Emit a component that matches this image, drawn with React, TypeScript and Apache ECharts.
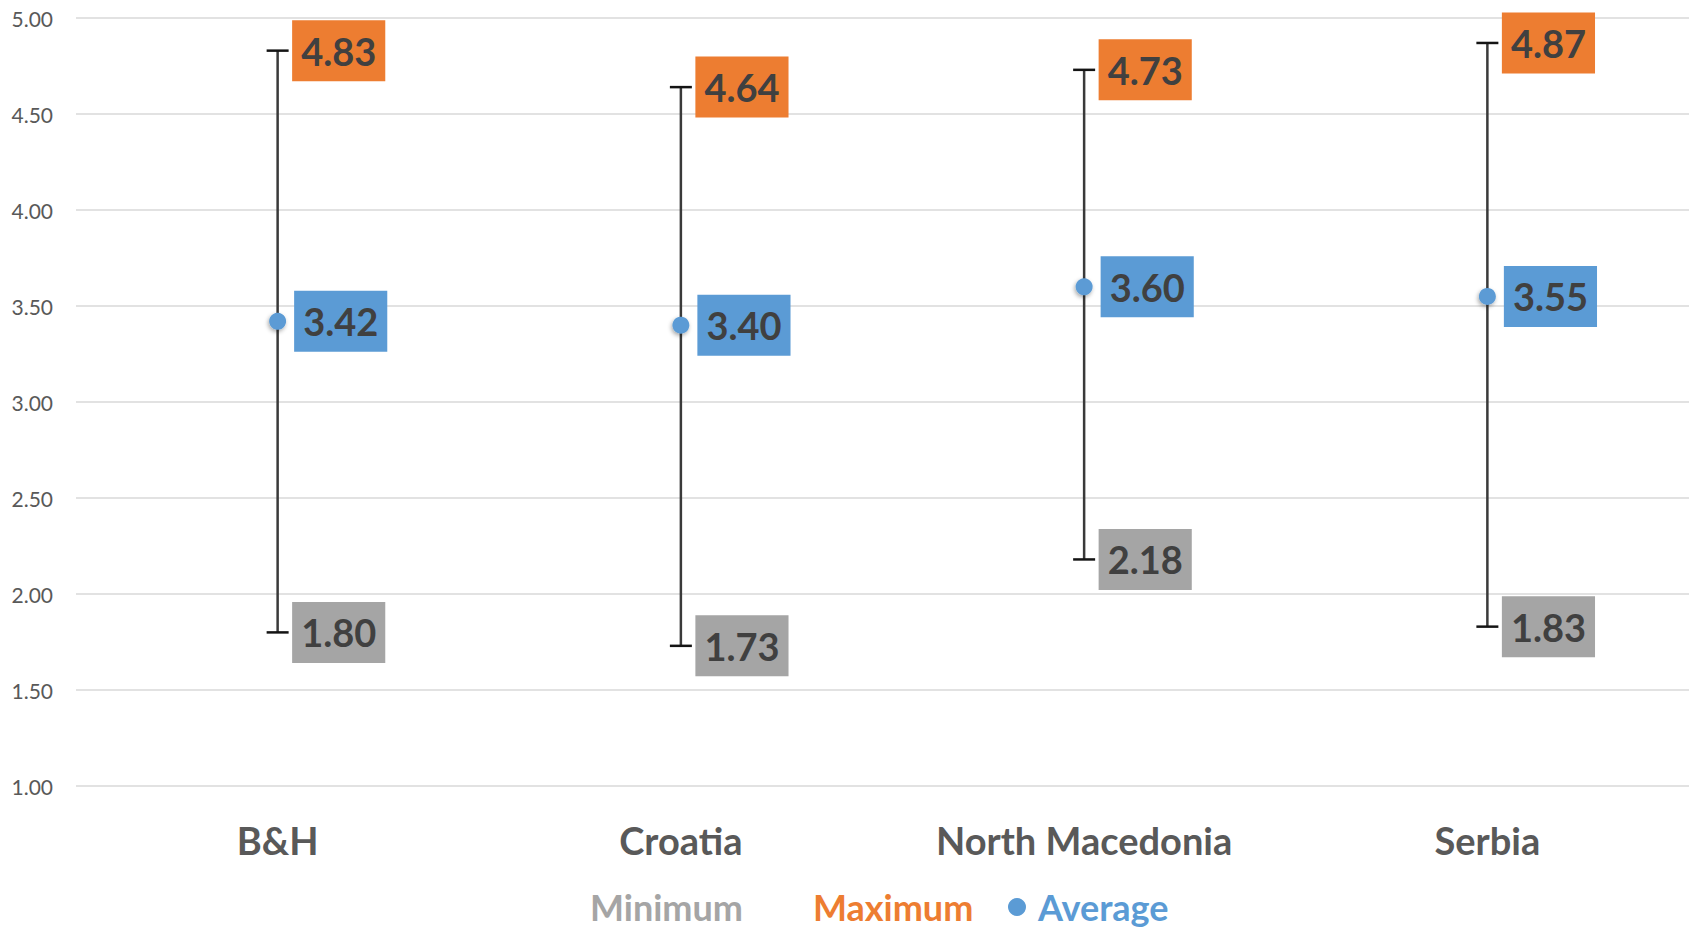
import React, { useEffect, useRef } from "react";
import * as echarts from "echarts";

// Survey score ranges by country
const countries = ["B&H", "Croatia", "North Macedonia", "Serbia"];
const minimumScores = [1.8, 1.73, 2.18, 1.83];
const maximumScores = [4.83, 4.64, 4.73, 4.87];
const averageScores = [3.42, 3.4, 3.6, 3.55];

const GRAY = "#A5A5A5";
const ORANGE = "#ED7D31";
const BLUE = "#5B9BD5";
const LABEL_TEXT = "#404040";
const FONT = "Lato, 'Noto Sans', sans-serif";

const valueLabel = (bg: string, distance: number) => ({
  show: true,
  position: "right" as const,
  distance,
  formatter: (p: any) => Number(p.value).toFixed(2),
  backgroundColor: bg,
  color: LABEL_TEXT,
  fontFamily: FONT,
  fontWeight: "bold" as const,
  fontSize: 38,
  lineHeight: 44,
  padding: [9, 9, 8, 9],
});

const legendBase = {
  top: 889,
  padding: 0,
  itemWidth: 32,
  itemHeight: 18,
  itemGap: 40,
  textStyle: { fontFamily: FONT, fontWeight: "bold", fontSize: 36, lineHeight: 36 },
};

export default function App() {
  const ref = useRef<HTMLDivElement>(null);

  useEffect(() => {
    if (!ref.current) return;
    const chart = echarts.init(ref.current, undefined, { renderer: "svg" });

    const rangeData = countries.map((_, i) => [i, minimumScores[i], maximumScores[i]]);

    chart.setOption({
      animation: false,
      backgroundColor: "#FFFFFF",
      grid: { left: 76, right: 5, top: 18, bottom: 145 },
      legend: [
        {
          ...legendBase,
          left: 560,
          data: [
            { name: "Minimum", textStyle: { color: GRAY } },
            { name: "Maximum", textStyle: { color: ORANGE } },
          ],
        },
        {
          ...legendBase,
          left: 1008,
          data: [{ name: "Average", icon: "circle", textStyle: { color: BLUE } }],
        },
      ],
      xAxis: {
        type: "category",
        data: countries,
        boundaryGap: true,
        axisLine: { show: false },
        axisTick: { show: false },
        axisLabel: {
          margin: 35,
          color: "#595959",
          fontFamily: FONT,
          fontWeight: "bold",
          fontSize: 38,
        },
      },
      yAxis: {
        type: "value",
        min: 1,
        max: 5,
        interval: 0.5,
        axisLine: { show: false },
        axisTick: { show: false },
        axisLabel: {
          margin: 23,
          color: "#595959",
          fontFamily: FONT,
          fontSize: 21,
          formatter: (v: number) => v.toFixed(2),
        },
        splitLine: { lineStyle: { color: "#D9D9D9", width: 1.5 } },
      },
      series: [
        {
          name: "Range",
          type: "custom",
          data: rangeData,
          encode: { x: 0, y: [1, 2] },
          z: 1,
          renderItem: (_params: any, api: any) => {
            const idx = api.value(0);
            const lo = api.coord([idx, api.value(1)]);
            const hi = api.coord([idx, api.value(2)]);
            const half = 11;
            return {
              type: "group",
              children: [
                {
                  type: "line",
                  shape: { x1: lo[0], y1: lo[1], x2: hi[0], y2: hi[1] },
                  style: { stroke: "#3A3A3A", lineWidth: 2.5 },
                },
                {
                  type: "line",
                  shape: { x1: hi[0] - half, y1: hi[1], x2: hi[0] + half, y2: hi[1] },
                  style: { stroke: "#141414", lineWidth: 2.5 },
                },
                {
                  type: "line",
                  shape: { x1: lo[0] - half, y1: lo[1], x2: lo[0] + half, y2: lo[1] },
                  style: { stroke: "#141414", lineWidth: 2.5 },
                },
              ],
            };
          },
        },
        {
          name: "Minimum",
          type: "scatter",
          data: minimumScores,
          symbolSize: 1,
          itemStyle: { color: "rgba(0,0,0,0)", opacity: 1 },
          label: valueLabel(GRAY, 14),
          z: 3,
        },
        {
          name: "Maximum",
          type: "scatter",
          data: maximumScores,
          symbolSize: 1,
          itemStyle: { color: "rgba(0,0,0,0)", opacity: 1 },
          label: valueLabel(ORANGE, 14),
          z: 3,
        },
        {
          name: "Average",
          type: "scatter",
          data: averageScores,
          symbol: "circle",
          symbolSize: 17,
          itemStyle: {
            color: BLUE,
            opacity: 1,
            shadowBlur: 4,
            shadowColor: "rgba(0,0,0,0.35)",
            shadowOffsetX: -1,
            shadowOffsetY: 2,
          },
          label: valueLabel(BLUE, 8),
          z: 4,
        },
      ],
    });

    return () => chart.dispose();
  }, []);

  return (
    <div
      ref={ref}
      style={{ position: "fixed", left: 0, top: 0, width: 1694, height: 931 }}
    />
  );
}
